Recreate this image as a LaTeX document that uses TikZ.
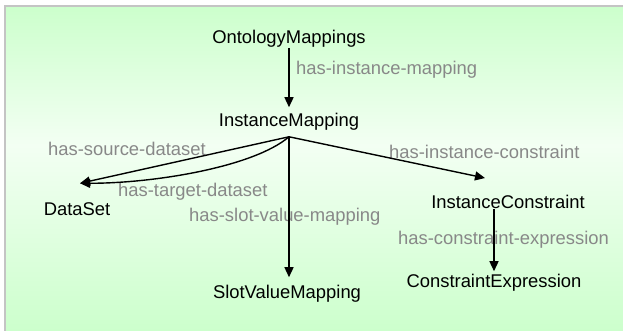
\documentclass[tikz,border=0pt]{standalone}
\usepackage{fontspec}
\setmainfont{Liberation Sans}
\usetikzlibrary{arrows.meta}
\definecolor{panelgreen}{HTML}{CCFFCC}
\definecolor{panelmid}{HTML}{F3FFF3}
\definecolor{labelgray}{HTML}{888888}
\definecolor{framegray}{HTML}{C4C4C4}
\tikzset{
  concept/.style={inner sep=0pt, font=\fontsize{18.4}{22}\selectfont, text=black},
  rel/.style={inner sep=0pt, anchor=west, font=\fontsize{18.4}{22}\selectfont, text=labelgray},
  link/.style={line width=1.4pt, -{Triangle[length=10pt,width=9pt]}},
}
\begin{document}
\begin{tikzpicture}[x=1pt,y=-1pt]
\useasboundingbox (0,0) rectangle (623,331);
% panel background
\fill[white] (0,0) rectangle (623,331);
\shade[top color=panelgreen, bottom color=panelmid] (5,6) rectangle (623,145);
\shade[top color=panelmid, bottom color=panelgreen] (5,145) rectangle (623,331);
\draw[framegray, line width=2pt] (5,331) -- (5,6) -- (623,6);

% concepts
\node[concept] (om)  at (289,39)  {OntologyMappings};
\node[concept] (im)  at (289,122) {InstanceMapping};
\node[concept] (ds)  at (77,209)  {DataSet};
\node[concept] (svm) at (287,294) {SlotValueMapping};
\node[concept] (ic)  at (508,202) {InstanceConstraint};
\node[concept] (ce)  at (494,283) {ConstraintExpression};

% relation labels
\node[rel] (l-inst)  at (296,70)  {has-instance-mapping};
\node[rel] (l-src)   at (48,149)  {has-source-dataset};
\node[rel] (l-tgt)   at (118,192) {has-target-dataset};
\node[rel] (l-slot)  at (189,217) {has-slot-value-mapping};
\node[rel] (l-ic)    at (389,152) {has-instance-constraint};
\node[rel] (l-expr)  at (398,240) {has-constraint-expression};

% connector end points
\coordinate (hub)   at ([yshift=-6pt]im.south);
\coordinate (ds-in) at ([shift={(3pt,19pt)}]ds.north);
\coordinate (ic-in) at ([shift={(-23pt,17pt)}]ic.north);

% connectors
\draw[link, shorten >=6pt] (om.south) -- (im.north);
\draw[link] (hub) -- (ds-in);
\draw[link] (hub) .. controls ([shift={(-35pt,-30pt)}]hub) and ([shift={(75pt,0pt)}]ds-in) .. (ds-in);
\draw[link, shorten >=8pt] (hub) -- (hub |- svm.north);
\draw[link] (hub) -- (ic-in);
\draw[link, shorten >=3pt] (ic.south -| ce.north) -- (ce.north);
\end{tikzpicture}
\end{document}
